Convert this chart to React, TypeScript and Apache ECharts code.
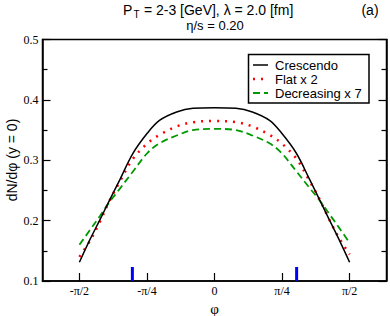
import React, { useEffect, useRef } from "react";
import * as echarts from "echarts";

const phi = [-1.571, -1.45, -1.33, -1.22, -1.1, -0.95, -0.78, -0.64, -0.44, -0.25, 0, 0.25, 0.44, 0.64, 0.78, 0.95, 1.1, 1.22, 1.33, 1.45, 1.571];
const crescendo = [0.131, 0.168, 0.202, 0.234, 0.268, 0.311, 0.345, 0.366, 0.38, 0.386, 0.387, 0.386, 0.38, 0.366, 0.345, 0.312, 0.27, 0.235, 0.203, 0.168, 0.131];
const flatX2 = [0.14, 0.166, 0.199, 0.233, 0.265, 0.302, 0.328, 0.342, 0.356, 0.363, 0.365, 0.363, 0.356, 0.342, 0.328, 0.303, 0.267, 0.236, 0.203, 0.171, 0.144];
const decreasingX7 = [0.16, 0.184, 0.208, 0.231, 0.253, 0.281, 0.312, 0.328, 0.341, 0.35, 0.352, 0.35, 0.341, 0.328, 0.312, 0.282, 0.255, 0.234, 0.212, 0.188, 0.163];
const markPhi = [-0.955, 0.955];
const markTop = 0.123;
const xTickValues = [-Math.PI / 2, -Math.PI / 4, 0, Math.PI / 4, Math.PI / 2];
const xTickLabels = ["-\u03c0/2", "-\u03c0/4", "0", "\u03c0/4", "\u03c0/2"];
const legendNames = ["Crescendo", "Flat x 2", "Decreasing x 7"];
const yAxisTitle = "dN/d\u03c6 (y = 0)";

const SERIF = "'Liberation Serif', 'DejaVu Serif', serif";
const SANS = "'Liberation Sans', Arial, sans-serif";

export default function App() {
  const ref = useRef<HTMLDivElement>(null);
  useEffect(() => {
    document.body.style.margin = "0";
    const chart = echarts.init(ref.current!, null, { renderer: "svg" });
    const toXY = (ys: number[]) => phi.map((p, i) => [p, ys[i]]);
    const yAxisBase = {
      type: "value",
      min: 0.1,
      max: 0.5,
      interval: 0.1,
      splitLine: { show: false },
      axisLine: { show: true, onZero: false, lineStyle: { color: "#000", width: 1.5 } },
      axisTick: { show: true, inside: true, length: 8, lineStyle: { color: "#000", width: 1.2 } },
      minorTick: { show: true, splitNumber: 2, length: 5, lineStyle: { color: "#000", width: 1.2 } },
    };
    const lineColors = ["#000000", "#ff0000", "#009a00"];
    const lineTypes: any[] = ["solid", [2, 6], [7, 4]];
    const lineWidths = [1.5, 2.5, 1.8];
    const legendRows = [65, 79, 93];
    chart.setOption({
      animation: false,
      grid: { left: 42.5, right: 3.5, top: 39.5, bottom: 35, show: true, borderColor: "#000", borderWidth: 1.5, containLabel: false, outerBoundsMode: "none" },
      xAxis: {
        type: "value",
        min: -2,
        max: 2,
        name: "\u03c6",
        nameLocation: "middle",
        nameGap: 17,
        nameTextStyle: { fontFamily: SERIF, fontSize: 15, color: "#000" },
        splitLine: { show: false },
        axisLine: { show: true, onZero: false, lineStyle: { color: "#000", width: 1.5 } },
        axisTick: { show: true, inside: true, length: 8, customValues: xTickValues, lineStyle: { color: "#000", width: 1.2 } },
        axisLabel: {
          show: true,
          customValues: xTickValues,
          margin: 4,
          fontFamily: SERIF,
          fontSize: 12,
          color: "#000",
          formatter: (v: number) => {
            const i = xTickValues.findIndex((t) => Math.abs(t - v) < 1e-6);
            return i >= 0 ? xTickLabels[i] : "";
          },
        },
      },
      yAxis: [
        {
          ...yAxisBase,
          position: "left",
          axisLabel: { show: true, margin: 4, fontFamily: SERIF, fontSize: 12, color: "#000", formatter: (v: number) => v.toFixed(1) },
        },
        { ...yAxisBase, position: "right", axisLabel: { show: false } },
      ],
      series: [
        ...[crescendo, flatX2, decreasingX7].map((ys, k) => ({
          name: legendNames[k],
          type: "line",
          data: toXY(ys),
          showSymbol: false,
          symbol: "none",
          smooth: 0.35,
          z: 3 - k,
          lineStyle: { color: lineColors[k], width: lineWidths[k], type: lineTypes[k], cap: "butt" },
        })),
        ...markPhi.map((p) => ({
          type: "line",
          data: [[p, 0.1], [p, markTop]],
          showSymbol: false,
          symbol: "none",
          z: 5,
          lineStyle: { color: "#0000ff", width: 3, cap: "butt" },
        })),
      ],
      graphic: [
        {
          type: "text",
          x: 12,
          y: 160,
          rotation: Math.PI / 2,
          style: { text: yAxisTitle, fontFamily: SANS, fontSize: 14, fill: "#000", align: "center", verticalAlign: "middle" },
        },
        { type: "text", left: 123, top: 3, style: { text: "P", fontFamily: SANS, fontSize: 14, fill: "#000" } },
        { type: "text", left: 133.5, top: 9, style: { text: "T", fontFamily: SANS, fontSize: 10, fill: "#000" } },
        { type: "text", left: 140, top: 3, style: { text: " = 2-3 [GeV], \u03bb = 2.0 [fm]", fontFamily: SANS, fontSize: 14, fill: "#000" } },
        { type: "text", x: 215, y: 25.5, style: { text: "\u03b7/s = 0.20", fontFamily: SANS, fontSize: 13, fill: "#000", align: "center", verticalAlign: "middle" } },
        { type: "text", x: 370, y: 9.5, style: { text: "(a)", fontFamily: SANS, fontSize: 14, fill: "#000", align: "center", verticalAlign: "middle" } },
        {
          type: "rect",
          shape: { x: 248.5, y: 54.5, width: 120.5, height: 48.5 },
          style: { fill: "#fff", stroke: "#000", lineWidth: 1.5 },
          z: 10,
        },
        ...legendNames.flatMap((n, k) => [
          {
            type: "line",
            shape: { x1: 253, y1: legendRows[k], x2: 268, y2: legendRows[k] },
            style: { stroke: lineColors[k], lineWidth: lineWidths[k], lineDash: k === 0 ? null : lineTypes[k] },
            z: 11,
          },
          {
            type: "text",
            x: 275,
            y: legendRows[k],
            style: { text: n, fontFamily: SANS, fontSize: 13, fill: "#000", verticalAlign: "middle" },
            z: 11,
          },
        ]),
      ],
    });
    return () => chart.dispose();
  }, []);
  return <div ref={ref} style={{ width: 390, height: 316 }} />;
}
